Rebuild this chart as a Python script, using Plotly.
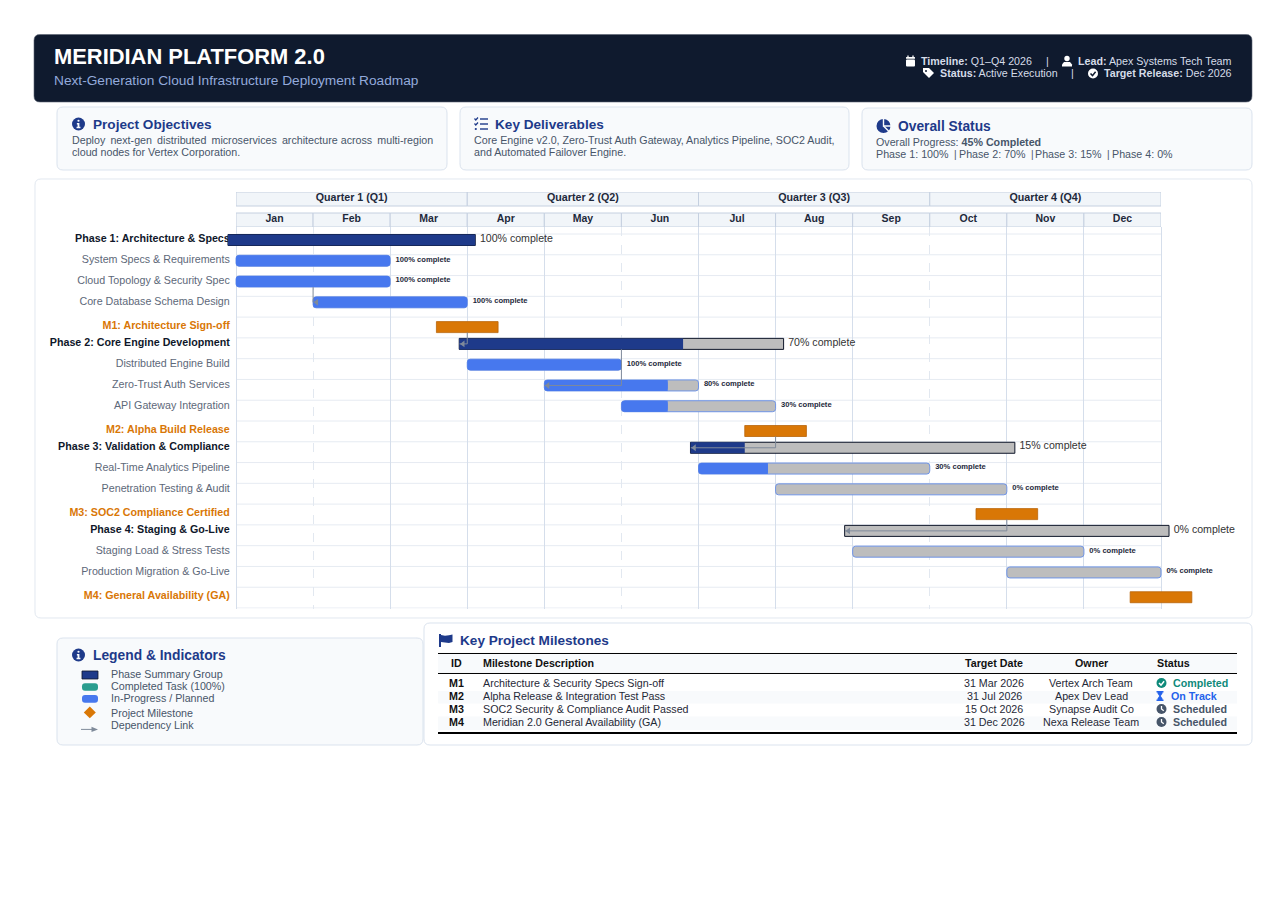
import plotly.graph_objects as go

# page is opened with the browser's 8px body margin, so page px -> paper goes through these
WIDTH = 1271
HEIGHT = 890
FONT = 'Liberation Sans'

NAVY = '#1e3a8a'
INK = '#0f172a'
SLATE = '#475569'
BLUE = '#4778ee'
GREY = '#bdbdbd'
ORANGE = '#d97706'
TEAL = '#2a9d8f'
LINK = '#7f8a9a'
CARD = '#f8fafc'
EDGE = '#dbe3ee'

# Gantt rows, top to bottom (month numbers: 0 = start of Jan, 12 = end of Dec)
row_names = [
    'Phase 1: Architecture & Specs', 'System Specs & Requirements', 'Cloud Topology & Security Spec',
    'Core Database Schema Design', 'M1: Architecture Sign-off', 'Phase 2: Core Engine Development',
    'Distributed Engine Build', 'Zero-Trust Auth Services', 'API Gateway Integration',
    'M2: Alpha Build Release', 'Phase 3: Validation & Compliance', 'Real-Time Analytics Pipeline',
    'Penetration Testing & Audit', 'M3: SOC2 Compliance Certified', 'Phase 4: Staging & Go-Live',
    'Staging Load & Stress Tests', 'Production Migration & Go-Live', 'M4: General Availability (GA)',
]
row_types = [
    'phase', 'task', 'task', 'task', 'milestone', 'phase', 'task', 'task', 'task',
    'milestone', 'phase', 'task', 'task', 'milestone', 'phase', 'task', 'task', 'milestone',
]
row_start = [0, 0, 0, 1, 3, 3, 3, 4, 5, 7, 6, 6, 7, 10, 8, 8, 10, 12]
row_end = [3, 2, 2, 3, 3, 7, 5, 6, 7, 7, 10, 9, 10, 10, 12, 11, 12, 12]
row_pct = [100, 100, 100, 100, 0, 70, 100, 80, 30, 0, 15, 30, 0, 0, 0, 0, 0, 0]

# dependency links: source x, target x, source row, target row
dep_from_x = [1, 3, 5, 7, 10]
dep_to_x = [1, 2.9, 4, 5.9, 7.9]
dep_from_row = [2, 4, 5, 9, 13]
dep_to_row = [3, 5, 7, 10, 14]

quarters = ['Quarter 1 (Q1)', 'Quarter 2 (Q2)', 'Quarter 3 (Q3)', 'Quarter 4 (Q4)']
quarter_start = [0, 3, 6, 9]
months = ['Jan', 'Feb', 'Mar', 'Apr', 'May', 'Jun', 'Jul', 'Aug', 'Sep', 'Oct', 'Nov', 'Dec']

table_ids = ['M1', 'M2', 'M3', 'M4']
table_desc = ['Architecture & Security Specs Sign-off', 'Alpha Release & Integration Test Pass',
              'SOC2 Security & Compliance Audit Passed', 'Meridian 2.0 General Availability (GA)']
table_dates = ['31 Mar 2026', '31 Jul 2026', '15 Oct 2026', '31 Dec 2026']
table_owner = ['Vertex Arch Team', 'Apex Dev Lead', 'Synapse Audit Co', 'Nexa Release Team']
table_status = ['Completed', 'On Track', 'Scheduled', 'Scheduled']

legend_items = ['Phase Summary Group', 'Completed Task (100%)', 'In-Progress / Planned',
                'Project Milestone', 'Dependency Link']


def px(x):
    return (x - 8) / WIDTH


def py(y):
    return 1 - (y - 8) / HEIGHT


def pt(x, y):
    return f'{px(x):.5f} {py(y):.5f}'


shapes = []
notes = []


def path(d, fill=None, line=None, lw=0):
    shape = dict(type='path', xref='paper', yref='paper', path=d, layer='below',
                 line=dict(width=lw, color=line or 'rgba(0,0,0,0)'))
    if fill:
        shape['fillcolor'] = fill
    shapes.append(shape)


def box(x0, y0, x1, y1, r, fill, line=None, lw=1):
    d = (f'M {pt(x0 + r, y0)} L {pt(x1 - r, y0)} Q {pt(x1, y0)} {pt(x1, y0 + r)} '
         f'L {pt(x1, y1 - r)} Q {pt(x1, y1)} {pt(x1 - r, y1)} L {pt(x0 + r, y1)} '
         f'Q {pt(x0, y1)} {pt(x0, y1 - r)} L {pt(x0, y0 + r)} Q {pt(x0, y0)} {pt(x0 + r, y0)} Z')
    path(d, fill, line, lw if line else 0)


def poly(points, fill):
    path('M ' + ' L '.join(pt(x, y) for x, y in points) + ' Z', fill)


def stroke(points, color, lw=1.0):
    path('M ' + ' L '.join(pt(x, y) for x, y in points), None, color, lw)


def dot(cx, cy, r, fill):
    shapes.append(dict(type='circle', xref='paper', yref='paper', layer='below',
                       x0=px(cx - r), x1=px(cx + r), y0=py(cy + r), y1=py(cy - r),
                       fillcolor=fill, line=dict(width=0)))


def note(x, y, text, size, color, anchor='left'):
    notes.append(dict(xref='paper', yref='paper', x=px(x), y=py(y - 0.7), text=text, showarrow=False,
                      xanchor=anchor, yanchor='middle', borderpad=0, borderwidth=0,
                      font=dict(family=FONT, size=size, color=color)))


def icon_info(cx, cy, r, color, back):
    dot(cx, cy, r, color)
    dot(cx, cy - r * 0.5, r * 0.17, back)
    poly([(cx - r * 0.25, cy - r * 0.15), (cx + r * 0.14, cy - r * 0.15), (cx + r * 0.14, cy + r * 0.42),
          (cx + r * 0.3, cy + r * 0.42), (cx + r * 0.3, cy + r * 0.66), (cx - r * 0.3, cy + r * 0.66),
          (cx - r * 0.3, cy + r * 0.42), (cx - r * 0.14, cy + r * 0.42), (cx - r * 0.14, cy + r * 0.08),
          (cx - r * 0.25, cy + r * 0.08)], back)


def icon_check(cx, cy, r, color, back):
    dot(cx, cy, r, color)
    stroke([(cx - r * 0.5, cy), (cx - r * 0.1, cy + r * 0.42), (cx + r * 0.52, cy - r * 0.36)], back, 1.5)


def icon_clock(cx, cy, r, color, back):
    dot(cx, cy, r, color)
    stroke([(cx, cy - r * 0.6), (cx, cy), (cx + r * 0.45, cy + r * 0.35)], back, 1.3)


# ---- page cards ----
box(34, 34.5, 1252, 102, 6, '#0f1a2e', '#5a6372', 0.6)
box(57, 107, 447, 170, 6, CARD, EDGE)
box(460, 107, 849, 170, 6, CARD, EDGE)
box(862, 108, 1252, 170, 6, CARD, EDGE)
box(35, 179, 1252, 618, 6, '#ffffff', '#e2e8f0')
box(57, 638, 423, 745, 6, CARD, EDGE)
box(424, 623, 1252, 745, 6, '#ffffff', EDGE)

# ---- header ----
TXT = 10.7
note(54, 57, '<b>MERIDIAN PLATFORM 2.0</b>', 21.9, '#ffffff')
note(54, 81.5, 'Next-Generation Cloud Infrastructure Deployment Roadmap', 13.7, '#93aadc')
note(921, 61.5, '<b>Timeline:</b> Q1–Q4 2026', TXT, '#d5dce8')
note(1047, 61.5, '|', TXT, '#d5dce8', 'center')
note(1232, 61.5, '<b>Lead:</b> Apex Systems Tech Team', TXT, '#d5dce8', 'right')
note(940, 73.5, '<b>Status:</b> Active Execution', TXT, '#d5dce8')
note(1072, 73.5, '|', TXT, '#d5dce8', 'center')
note(1232, 73.5, '<b>Target Release:</b> Dec 2026', TXT, '#d5dce8', 'right')

# calendar, user, tag, check
box(906, 59.5, 915, 66.5, 1, '#ffffff')
box(906, 57, 915, 58.8, 0.5, '#ffffff')
stroke([(908, 55.5), (908, 57)], '#ffffff', 1.3)
stroke([(913, 55.5), (913, 57)], '#ffffff', 1.3)
dot(1067, 58.5, 2.7, '#ffffff')
poly([(1062, 66.5), (1062, 64.5), (1064, 62), (1070, 62), (1072, 64.5), (1072, 66.5)], '#ffffff')
poly([(923, 68), (929, 68), (934, 73), (929, 78), (923, 72)], '#ffffff')
dot(926, 71, 1, '#0f1a2e')
icon_check(1093, 73.5, 5, '#ffffff', '#0f1a2e')

# ---- info cards ----
icon_info(78.5, 124, 6.5, NAVY, CARD)
note(93, 125.2, '<b>Project Objectives</b>', 13.6, NAVY)
# thin spaces stand in for the justified first line
note(72, 140.8, 'Deploy\u2009 next-gen\u2009 distributed\u2009 microservices\u2009 architecture across\u2009 multi-region',
     TXT, SLATE)
note(72, 152.8, 'cloud nodes for Vertex Corporation.', TXT, SLATE)

for line_y in [119, 124, 129]:
    stroke([(480, line_y), (488, line_y)], NAVY, 1.4)
stroke([(474.5, 118.5), (475.8, 120), (478, 117.5)], NAVY, 1.2)
stroke([(474.5, 123.5), (475.8, 125), (478, 122.5)], NAVY, 1.2)
dot(475.8, 129, 1.1, NAVY)
note(495, 125.2, '<b>Key Deliverables</b>', 13.6, NAVY)
note(474, 140.8, 'Core Engine v2.0, Zero-Trust Auth Gateway, Analytics Pipeline, SOC2 Audit,', TXT, SLATE)
note(474, 152.8, 'and Automated Failover Engine.', TXT, SLATE)

dot(883.5, 126, 7, NAVY)
stroke([(883.5, 118.5), (883.5, 126), (891.5, 126)], CARD, 1.4)
stroke([(883.5, 126), (889.5, 132)], CARD, 1.4)
note(898, 127.5, '<b>Overall Status</b>', 13.8, NAVY)
note(876, 142.5, 'Overall Progress: <b>45% Completed</b>', TXT, SLATE)
note(876, 155, 'Phase 1: 100%', TXT, SLATE)
note(955.5, 155, '|', 10, SLATE, 'center')
note(959, 155, 'Phase 2: 70%', TXT, SLATE)
note(1032, 155, '|', 10, SLATE, 'center')
note(1035, 155, 'Phase 3: 15%', TXT, SLATE)
note(1108.5, 155, '|', 10, SLATE, 'center')
note(1112, 155, 'Phase 4: 0%', TXT, SLATE)

# ---- legend card ----
icon_info(78.5, 655, 6.5, NAVY, CARD)
note(93, 656.5, '<b>Legend &amp; Indicators</b>', 13.8, NAVY)
box(82, 671, 98, 679, 0, NAVY, INK, 0.8)
box(82, 683.3, 98, 690.7, 3, TEAL)
box(82, 695, 98, 702.7, 3, BLUE)
poly([(89.8, 706.5), (95.8, 712.4), (89.8, 718.3), (83.8, 712.4)], ORANGE)
stroke([(81, 729.4), (93, 729.4)], LINK, 1)
poly([(98, 729.4), (91.5, 726.8), (91.5, 732)], LINK)
for item, item_y in zip(legend_items, [674.5, 686.5, 698.5, 713.5, 725.5]):
    note(111, item_y, item, TXT, SLATE)

# ---- milestone table ----
poly([(439, 634), (441, 634), (441, 635), (445, 635.8), (449, 635.2), (452.5, 634.5), (452.5, 642),
      (449, 643), (445, 642.4), (441, 642), (441, 647), (439, 647)], NAVY)
note(460, 641.5, '<b>Key Project Milestones</b>', 13.6, NAVY)
box(438, 654, 1237, 673, 0, CARD)
box(438, 691, 1237, 703.5, 0, CARD)
box(438, 716.5, 1237, 730, 0, CARD)
stroke([(438, 653.5), (1237, 653.5)], '#000000', 1)
stroke([(438, 673.5), (1237, 673.5)], '#000000', 1)
stroke([(438, 733), (1237, 733)], '#000000', 2)
note(456.5, 663.5, '<b>ID</b>', TXT, '#111111', 'center')
note(483, 663.5, '<b>Milestone Description</b>', TXT, '#111111')
note(994, 663.5, '<b>Target Date</b>', TXT, '#111111', 'center')
note(1091, 663.5, '<b>Owner</b>', TXT, '#111111', 'center')
note(1156.5, 663.5, '<b>Status</b>', TXT, '#111111')

status_colors = {'Completed': '#0f8a7a', 'On Track': '#2563eb', 'Scheduled': SLATE}
for row_y, mid, desc, date, owner, status in zip([683.5, 696.5, 709.5, 722.5], table_ids, table_desc,
                                                 table_dates, table_owner, table_status):
    note(456.5, row_y, f'<b>{mid}</b>', TXT, '#111111', 'center')
    note(483, row_y, desc, TXT, '#1f2937')
    note(994, row_y, date, TXT, '#1f2937', 'center')
    note(1091, row_y, owner, TXT, '#1f2937', 'center')
    color = status_colors[status]
    note(1171 if status == 'On Track' else 1173, row_y, f'<b>{status}</b>', TXT, color)
    if status == 'Completed':
        icon_check(1161.5, row_y - 0.5, 5, color, '#ffffff')
    elif status == 'Scheduled':
        icon_clock(1161.5, row_y - 0.5, 5, color, '#ffffff')
    else:
        cy = row_y - 0.5
        poly([(1156.5, cy - 5), (1163.5, cy - 5), (1163.5, cy - 3.5), (1162.5, cy - 3.5), (1162.5, cy - 2.5),
              (1160.7, cy), (1162.5, cy + 2.5), (1162.5, cy + 3.5), (1163.5, cy + 3.5), (1163.5, cy + 5),
              (1156.5, cy + 5), (1156.5, cy + 3.5), (1157.5, cy + 3.5), (1157.5, cy + 2.5), (1159.3, cy),
              (1157.5, cy - 2.5), (1157.5, cy - 3.5), (1156.5, cy - 3.5)], color)

# ---- Gantt ----
MONTH_PX = (1161 - 236) / 12
ROW_PX = (608 - 234) / 18
BAR_PX = 11
PHASE_PAD = 0.104
MILESTONE_HALF = 0.4
X_MIN = -0.12
X_MAX = 12.5
bar_mid = 6 / ROW_PX
milestone_mid = 10 / ROW_PX
bar_w = BAR_PX / ROW_PX


def bar_y(row):
    return row + (milestone_mid if row_types[row] == 'milestone' else bar_mid)


def hbar(x0, x1, ys, fill, line=None, lw=0, radius=0):
    return go.Bar(orientation='h', base=x0, x=[b - a for a, b in zip(x0, x1)], y=ys, width=bar_w,
                  marker=dict(color=fill, cornerradius=radius, line=dict(color=line or fill, width=lw)),
                  hoverinfo='skip', showlegend=False, xaxis='x', yaxis='y')


fig = go.Figure()

rows = list(range(len(row_names)))
phase_rows = [r for r in rows if row_types[r] == 'phase']
task_rows = [r for r in rows if row_types[r] == 'task']
mile_rows = [r for r in rows if row_types[r] == 'milestone']

# row lines stop at the first and last month, so they can't be the axis grid
for r in range(len(row_names) + 1):
    shapes.append(dict(type='line', xref='x', yref='y', x0=0, x1=12, y0=r, y1=r, layer='below',
                       line=dict(color='#e6ebf2', width=1)))

# phase summary bars
fig.add_trace(hbar([row_start[r] - PHASE_PAD for r in phase_rows], [row_end[r] + PHASE_PAD for r in phase_rows],
                   [bar_y(r) for r in phase_rows], GREY, INK, 1))
done = [r for r in phase_rows if row_pct[r] > 0]
fig.add_trace(hbar([row_start[r] - PHASE_PAD for r in done],
                   [row_end[r] + PHASE_PAD if row_pct[r] == 100
                    else row_start[r] + row_pct[r] / 100 * (row_end[r] - row_start[r]) for r in done],
                   [bar_y(r) for r in done], NAVY))

# task bars, the square part keeps the inner end of partial progress flat
fig.add_trace(hbar([row_start[r] for r in task_rows], [row_end[r] for r in task_rows],
                   [bar_y(r) for r in task_rows], GREY, '#6f94e6', 1, 3))
done = [r for r in task_rows if row_pct[r] > 0]
fig.add_trace(hbar([row_start[r] for r in done],
                   [row_start[r] + row_pct[r] / 100 * (row_end[r] - row_start[r]) for r in done],
                   [bar_y(r) for r in done], BLUE, None, 0, 3))
partial = [r for r in done if row_pct[r] < 100]
fig.add_trace(hbar([row_start[r] + 0.04 for r in partial],
                   [row_start[r] + row_pct[r] / 100 * (row_end[r] - row_start[r]) for r in partial],
                   [bar_y(r) for r in partial], BLUE))

# milestones
fig.add_trace(hbar([row_start[r] - MILESTONE_HALF for r in mile_rows],
                   [row_start[r] + MILESTONE_HALF for r in mile_rows],
                   [bar_y(r) for r in mile_rows], ORANGE, '#b9650a', 0.8))

# percent labels
label_up = 1 / ROW_PX
fig.add_trace(go.Scatter(x=[row_end[r] + PHASE_PAD + 0.06 for r in phase_rows],
                         y=[bar_y(r) - label_up for r in phase_rows],
                         mode='text', text=[f'{row_pct[r]}% complete' for r in phase_rows],
                         textposition='middle right', textfont=dict(family=FONT, size=10.6, color='#333333'),
                         cliponaxis=False, hoverinfo='skip', showlegend=False))
fig.add_trace(go.Scatter(x=[row_end[r] + 0.07 for r in task_rows], y=[bar_y(r) - label_up for r in task_rows],
                         mode='text', text=[f'<b>{row_pct[r]}% complete</b>' for r in task_rows],
                         textposition='middle right', textfont=dict(family=FONT, size=7.6, color='#1e293b'),
                         cliponaxis=False, hoverinfo='skip', showlegend=False))

# dependency links
link_x = []
link_y = []
for x0, x1, r0, r1 in zip(dep_from_x, dep_to_x, dep_from_row, dep_to_row):
    y0 = bar_y(r0) + bar_w / 2
    link_x += [x0, x0, x1, None]
    link_y += [y0, bar_y(r1), bar_y(r1), None]
fig.add_trace(go.Scatter(x=link_x, y=link_y, mode='lines', line=dict(color=LINK, width=1),
                         hoverinfo='skip', showlegend=False))
fig.add_trace(go.Scatter(x=[x + 0.045 for x in dep_to_x], y=[bar_y(r) for r in dep_to_row], mode='markers',
                         marker=dict(symbol='triangle-left', size=6, color=LINK),
                         hoverinfo='skip', showlegend=False))

# quarter and month header cells
CELL_LINE = '#c5d0e0'
fig.add_trace(go.Bar(orientation='h', base=quarter_start, x=[3] * len(quarters), y=[7] * len(quarters), width=14,
                     marker=dict(color='#f1f5f9', line=dict(color=CELL_LINE, width=1)),
                     hoverinfo='skip', showlegend=False, xaxis='x2', yaxis='y2'))
fig.add_trace(go.Bar(orientation='h', base=list(range(12)), x=[1] * 12, y=[28] * 12, width=14,
                     marker=dict(color='#f1f5f9', line=dict(color=CELL_LINE, width=1)),
                     hoverinfo='skip', showlegend=False, xaxis='x2', yaxis='y2'))
fig.add_trace(go.Scatter(x=[q + 1.5 for q in quarter_start], y=[6] * len(quarters), mode='text',
                         text=[f'<b>{q}</b>' for q in quarters], textposition='middle center',
                         textfont=dict(family=FONT, size=10.7, color='#1e293b'),
                         hoverinfo='skip', showlegend=False, xaxis='x2', yaxis='y2'))
fig.add_trace(go.Scatter(x=[m + 0.5 for m in range(12)], y=[27] * 12, mode='text',
                         text=[f'<b>{m}</b>' for m in months], textposition='middle center',
                         textfont=dict(family=FONT, size=10.5, color='#1e293b'),
                         hoverinfo='skip', showlegend=False, xaxis='x2', yaxis='y2'))

tick_colors = {'phase': INK, 'task': '#5d6879', 'milestone': ORANGE}
tick_text = []
for name, kind in zip(row_names, row_types):
    label = name.replace('&', '&amp;')
    if kind != 'task':
        label = f'<b>{label}</b>'
    tick_text.append(f'<span style="color:{tick_colors[kind]}">{label}</span>')
# labels sit a little above the bar centres
tick_vals = [bar_y(r) - (2 if row_types[r] == 'milestone' else 1.4) / ROW_PX for r in rows]

fig.update_layout(
    width=WIDTH, height=HEIGHT, margin=dict(l=0, r=0, t=0, b=0), autosize=False,
    paper_bgcolor='#ffffff', plot_bgcolor='rgba(0,0,0,0)', barmode='overlay', showlegend=False,
    font=dict(family=FONT), shapes=shapes, annotations=notes,
    xaxis=dict(domain=[px(236 + X_MIN * MONTH_PX), px(236 + X_MAX * MONTH_PX)], range=[X_MIN, X_MAX], anchor='y',
               showticklabels=False, ticks='', zeroline=False, showline=False, tickmode='array',
               tickvals=[0, 2, 3, 4, 6, 7, 8, 10, 11, 12], showgrid=True, gridcolor='#d5deeb', gridwidth=1,
               minor=dict(tickmode='array', tickvals=[1, 5, 9], showgrid=True, griddash='dash',
                          gridcolor='#e2e8f0', gridwidth=1, ticks='')),
    yaxis=dict(domain=[py(608.5), py(227)], range=[18 + 0.5 / ROW_PX, -7 / ROW_PX], anchor='x', zeroline=False,
               showline=False, tickmode='array', tickvals=tick_vals, ticktext=tick_text, showgrid=False,
               tickfont=dict(family=FONT, size=10.7), ticks='', ticklabelstandoff=-4, layer='below traces'),
    xaxis2=dict(domain=[px(236), px(1161)], range=[0, 12], anchor='y2', showticklabels=False, ticks='',
                zeroline=False, showline=False, tickmode='array', tickvals=[0, 12],
                showgrid=True, gridcolor=CELL_LINE),
    yaxis2=dict(domain=[py(227), py(192)], range=[35, 0], anchor='x2', showticklabels=False, ticks='',
                zeroline=False, showline=False, showgrid=False),
)

fig.write_html("out.html", config={'displayModeBar': False})
